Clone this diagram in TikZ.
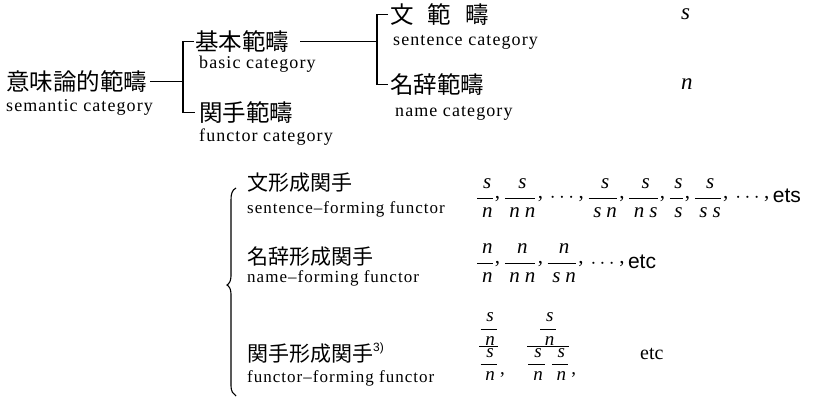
\documentclass[tikz,border=0pt]{standalone}
\usepackage{fontspec}
\setmainfont{Liberation Serif}
\newfontfamily\cjk{Noto Sans CJK JP}
\newfontfamily\eng[LetterSpace=6]{Liberation Serif}
\newfontfamily\sans{Liberation Sans}
\newfontfamily\mlet[LetterSpace=24]{Liberation Serif}
\newcommand\fr[2]{{\displaystyle\frac{\mkern4mu\mbox{\mlet\itshape #1}}{\mkern4mu\mbox{\mlet\itshape #2}}}}
\newcommand\frb[2]{{\displaystyle\frac{\mkern5mu\mbox{\mlet\itshape #1}\mkern2mu}{\mkern5mu\mbox{\mlet\itshape #2}\mkern2mu}}}
\newcommand\dfr[2]{{\displaystyle\frac{#1}{#2}}}
\newcommand\rc{\mkern1mu\raisebox{0.22em}{,}\mkern3mu}
\newcommand\lc{\mkern1mu\raisebox{-1.25em}{,}}
\begin{document}
\begin{tikzpicture}[x=1pt,y=-1pt,
  ln/.style={line width=1.1pt},
  jbig/.style={font=\cjk\fontsize{23.5}{24}\selectfont, inner sep=0pt, anchor=base west},
  jsm/.style={font=\cjk\fontsize{21}{22}\selectfont, inner sep=0pt, anchor=base west},
  ebig/.style={font=\eng\fontsize{18}{20}\selectfont, inner sep=0pt, anchor=base west},
  esm/.style={font=\eng\fontsize{17}{19}\selectfont, inner sep=0pt, anchor=base west},
  mth/.style={font=\fontsize{21}{25}\selectfont, inner sep=0pt, anchor=base west},
  mths/.style={font=\fontsize{19}{23}\selectfont, inner sep=0pt, anchor=base west},
  sym/.style={font=\fontsize{23}{24}\selectfont\itshape, inner sep=0pt, anchor=base west}]
\useasboundingbox (0,0) rectangle (820,401);
% upper tree
\node[jbig] (semj) at (6,90.7) {意味論的範疇};
\node[ebig] (seme) at (6,112) {semantic category};
\node[jbig] (kihon) at (195,50.7) {基本範疇};
\node[ebig] (kihone) at (199,69) {basic category};
\node[jbig] (kanshu) at (199,121.7) {関手範疇};
\node[ebig] (kanshue) at (199,142) {functor category};
\node[jbig] (bun) at (390,23.7) {文\hspace{14pt}範\hspace{14pt}疇};
\node[ebig] (bune) at (393,46) {sentence category};
\node[jbig] (meiji) at (390,93.7) {名辞範疇};
\node[ebig] (meijie) at (395,117) {name category};
\node[sym] (cs) at (681,20) {s};
\node[sym] (cn) at (681,90) {n};
\coordinate (jA) at (183,82);
\coordinate (jB) at (377,54);
\path ([xshift=3pt]semj.east) coordinate (s0);
\draw[ln] (s0) -- (s0 -| jA);
\draw[ln] ([xshift=-1pt]kihon.west) -| (jA) |- ([xshift=-4pt]kanshu.west);
\path ([xshift=11pt]kihon.east) coordinate (k0);
\draw[ln] (k0) -- (k0 -| jB);
\draw[ln] ([xshift=-2pt]bun.west) -| (jB) |- ([xshift=-2pt]meiji.west);
% lower part
\draw[line width=1.1pt] (236,188) .. controls (232,190) and (231,194) .. (231,200) -- (231,276)
  .. controls (231,281) and (229,284) .. (227,285) .. controls (229,286) and (231,289) .. (231,294)
  -- (231,386) .. controls (231,391) and (233,394) .. (236,396);
\node[jsm] (f1) at (247,191) {文形成関手};
\node[esm] (f1e) at (247,214) {sentence–forming functor};
\node[jsm] (f2) at (247,265) {名辞形成関手};
\node[esm] (f2e) at (247,282) {name–forming functor};
\node[jsm] (f3) at (247,361) {関手形成関手\raisebox{0.45em}{\sans\fontsize{12}{12}\selectfont 3)}};
\node[esm] (f3e) at (247,382) {functor–forming functor};
\node[mth] (r1) at (476,203) {$\fr{s}{n}\rc\fr{s}{nn}\rc\cdots\rc\fr{s}{sn}\rc\fr{s}{ns}\rc\fr{s}{s}\rc\fr{s}{ss}\rc\cdots\rc${\sans ets}};
\node[mth] (r2) at (476,268) {$\fr{n}{n}\rc\fr{n}{nn}\rc\fr{n}{sn}\rc\cdots\rc${\sans etc}};
\node[mths] (r3) at (478,351) {$\dfr{\frb{s}{n}}{\frb{s}{n}}\lc\mkern22mu\dfr{\frb{s}{n}}{\frb{s}{n}\mkern5mu\frb{s}{n}}\lc$};
\node[font=\fontsize{20}{20}\selectfont, inner sep=0pt, anchor=base west] (etc3) at (640,359) {etc};
\end{tikzpicture}
\end{document}
